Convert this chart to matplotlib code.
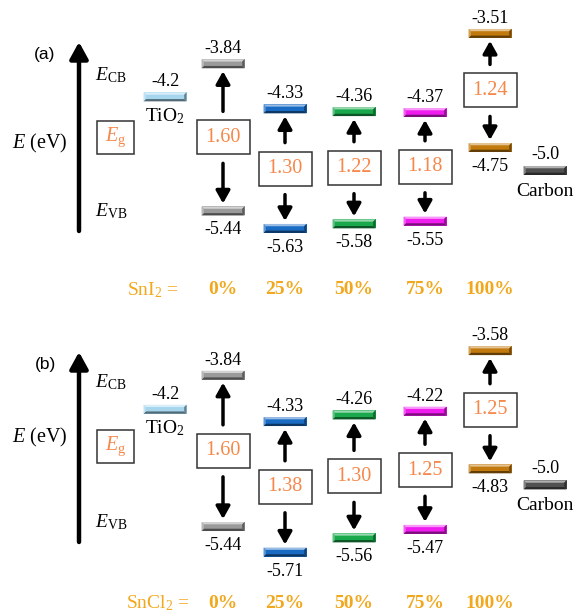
import matplotlib
matplotlib.use("Agg")
import matplotlib.pyplot as plt
from matplotlib.patches import Rectangle, Polygon, FancyArrowPatch
from matplotlib.colors import to_rgb

plt.rcParams['font.family'] = ['Liberation Serif', 'DejaVu Serif']
plt.rcParams['mathtext.fontset'] = 'custom'
plt.rcParams['mathtext.rm'] = 'Liberation Serif'
plt.rcParams['mathtext.it'] = 'Liberation Serif:italic'
plt.rcParams['mathtext.bf'] = 'Liberation Serif:bold'

# ---- data (energies in eV) ----
ratios = ["0%", "25%", "50%", "75%", "100%"]
sni2_cb = [-3.84, -4.33, -4.36, -4.37, -3.51]
sni2_vb = [-5.44, -5.63, -5.58, -5.55, -4.75]
sncl2_cb = [-3.84, -4.33, -4.26, -4.22, -3.58]
sncl2_vb = [-5.44, -5.71, -5.56, -5.47, -4.83]
tio2_cb = -4.2
carbon_level = -5.0

# ---- layout / style ----
W, PANEL_H = 580, 307
col_x = [223, 285, 354, 425, 490]
tio2_x, carbon_x = 165, 545
level_colors = ["#9a9a9a", "#1a6bc4", "#19a84c", "#ef1bef", "#c27a0e"]
tio2_color, carbon_color = "#a6d6ee", "#505050"
eg_color = "#f5884a"
ratio_color = "#f2a81d"
BAR_W, BAR_H = 43, 9
BOX_W, BOX_H = 53, 34
PT = 0.72  # points per pixel at 100 dpi
NUM_FS = 13


def mix(c, target, f):
    c, t = to_rgb(c), to_rgb(target)
    return tuple(ci + (ti - ci) * f for ci, ti in zip(c, t))


def level_bar(ax, cx, e, color, epp):
    x0, x1 = cx - BAR_W / 2, cx + BAR_W / 2
    y0, y1 = e - BAR_H * epp / 2, e + BAR_H * epp / 2
    bx, by = 2.3, 2.3 * epp
    ax.add_patch(Rectangle((x0, y0), BAR_W, y1 - y0, fc=color, ec='none', zorder=3))
    faces = [
        ([(x0, y1), (x1, y1), (x1 - bx, y1 - by), (x0 + bx, y1 - by)], mix(color, 'white', 0.55)),
        ([(x0, y0), (x1, y0), (x1 - bx, y0 + by), (x0 + bx, y0 + by)], mix(color, 'black', 0.5)),
        ([(x0, y0), (x0, y1), (x0 + bx, y1 - by), (x0 + bx, y0 + by)], mix(color, 'white', 0.3)),
        ([(x1, y0), (x1, y1), (x1 - bx, y1 - by), (x1 - bx, y0 + by)], mix(color, 'black', 0.4)),
    ]
    for pts, fc in faces:
        ax.add_patch(Polygon(pts, closed=True, fc=fc, ec='none', zorder=4))


def arrow(ax, start, end, lw, hl, hw, transform=None):
    kw = {} if transform is None else {'transform': transform}
    ax.add_patch(FancyArrowPatch(start, end,
                                 arrowstyle=f'-|>,head_length={hl},head_width={hw}',
                                 mutation_scale=10, lw=lw, color='black',
                                 shrinkA=0, shrinkB=0, zorder=5, **kw))


def draw_panel(ax, ylim, cb, vb, salt, tag, lay):
    ax.set_xlim(0, W)
    ax.set_ylim(*ylim)
    ax.axis('off')
    epp = (ylim[1] - ylim[0]) / PANEL_H
    tr = ax.get_xaxis_transform()

    def f(py):
        return 1 - py / PANEL_H

    # left-hand legend
    ax.text(45, f(lay['tag']), tag, transform=tr, ha='center', va='center',
            fontsize=12.5, family='Liberation Sans')
    arrow(ax, (79, f(lay['arrow'][0])), (79, f(lay['arrow'][1])), 3.2, 1.0, 0.55, transform=tr)
    ax.text(111, f(lay['ecb']), r'$E_{\mathrm{CB}}$', transform=tr, ha='center', va='center', fontsize=14)
    ax.text(40, f(lay['e']), r'$E$ (eV)', transform=tr, ha='center', va='center', fontsize=14.5)
    b0, b1 = lay['egbox']
    ax.add_patch(Rectangle((97, f(b1)), 37, (b1 - b0) / PANEL_H, transform=tr,
                           fc='white', ec='#333333', lw=1.1, zorder=3))
    ax.text(115.5, f((b0 + b1) / 2), r'$E_{\mathrm{g}}$', transform=tr, ha='center', va='center',
            fontsize=14.5, color=eg_color, zorder=4)
    ax.text(111, f(lay['evb']), r'$E_{\mathrm{VB}}$', transform=tr, ha='center', va='center', fontsize=14)

    # TiO2 conduction band
    level_bar(ax, tio2_x, tio2_cb, tio2_color, epp)
    ax.annotate(f"{tio2_cb:.1f}", (tio2_x, tio2_cb), xytext=(0, 15 * PT), textcoords='offset points',
                ha='center', va='center', fontsize=NUM_FS)
    ax.annotate(r'TiO$_2$', (tio2_x, tio2_cb), xytext=(0, -19 * PT), textcoords='offset points',
                ha='center', va='center', fontsize=14)

    # carbon electrode
    level_bar(ax, carbon_x, carbon_level, carbon_color, epp)
    ax.annotate(f"{carbon_level:.1f}", (carbon_x, carbon_level), xytext=(0, 16 * PT),
                textcoords='offset points', ha='center', va='center', fontsize=NUM_FS)
    ax.annotate('Carbon', (carbon_x, carbon_level), xytext=(0, -21 * PT),
                textcoords='offset points', ha='center', va='center', fontsize=14)

    # perovskite band edges
    for x, c, v, col in zip(col_x, cb, vb, level_colors):
        level_bar(ax, x, c, col, epp)
        level_bar(ax, x, v, col, epp)
        ax.annotate(f"{c:.2f}", (x, c), xytext=(0, 15 * PT), textcoords='offset points',
                    ha='center', va='center', fontsize=NUM_FS)
        ax.annotate(f"{v:.2f}", (x, v), xytext=(0, -19 * PT), textcoords='offset points',
                    ha='center', va='center', fontsize=NUM_FS)
        mid = (c + v) / 2
        half = BOX_H / 2 * epp
        ax.add_patch(Rectangle((x - BOX_W / 2, mid - half), BOX_W, 2 * half,
                               fc='white', ec='#333333', lw=1.1, zorder=3))
        ax.text(x, mid, f"{c - v:.2f}", ha='center', va='center', fontsize=14.5,
                color=eg_color, zorder=4)
        # arrows pointing from the gap box to each band edge
        arrow(ax, (x, mid + half + 9 * epp), (x, c - (BAR_H / 2 + 3) * epp), 2.5, 0.75, 0.42)
        arrow(ax, (x, mid - half - 9 * epp), (x, v + (BAR_H / 2 + 3) * epp), 2.5, 0.75, 0.42)

    # composition row
    ax.text(lay['salt_x'], f(lay['row']), salt, transform=tr, ha='center', va='center',
            fontsize=14, color=ratio_color)
    for x, r in zip(col_x, ratios):
        ax.text(x, f(lay['row']), r, transform=tr, ha='center', va='center', fontsize=14,
                fontweight='bold', color=ratio_color)


fig = plt.figure(figsize=(5.8, 6.14), dpi=100)
fig.patch.set_facecolor('white')
ax_a = fig.add_axes([0, 0.5, 1, 0.5])
ax_b = fig.add_axes([0, 0.0, 1, 0.5])

draw_panel(ax_a, (-6.484, -3.147), sni2_cb, sni2_vb, r'SnI$_2$ =', '(a)',
           dict(tag=55, arrow=(231, 42), ecb=75, e=143, egbox=(121, 154), evb=211,
                row=290, salt_x=153))
draw_panel(ax_b, (-6.365, -3.119), sncl2_cb, sncl2_vb, r'SnCl$_2$ =', '(b)',
           dict(tag=58, arrow=(235, 45), ecb=75, e=130, egbox=(123, 156), evb=215,
                row=296, salt_x=158))

fig.savefig('out.png', dpi=100, facecolor='white')
